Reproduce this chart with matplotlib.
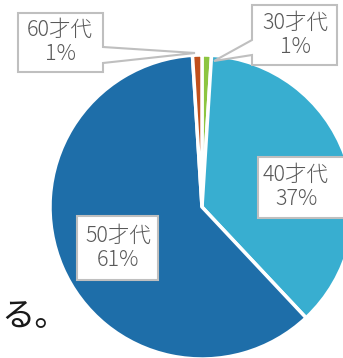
import matplotlib
matplotlib.use("Agg")
import matplotlib.pyplot as plt
from matplotlib.patches import Polygon

plt.rcParams['font.family'] = ['Noto Sans CJK JP', 'DejaVu Sans']

categories = ["30才代", "40才代", "50才代", "60才代"]
values = [1, 37, 61, 1]
pct_labels = ["1%", "37%", "61%", "1%"]
colors = ["#8DC540", "#38AED0", "#1E6EA9", "#C1501C"]

W, H = 343, 358
fig = plt.figure(figsize=(W / 100, H / 100), dpi=100)
ax = fig.add_axes([0, 0, 1, 1])

def py(y):
    return H - y

ax.pie(values, colors=colors, startangle=90, counterclock=False,
       center=(202, py(207)), radius=152,
       wedgeprops=dict(edgecolor="white", linewidth=2.5))
ax.set_xlim(0, W)
ax.set_ylim(0, H)
ax.set_aspect('auto')
ax.axis('off')

txt_color = "#595959"
edge = "#BFBFBF"

def callout(pts, cx, cy, label):
    poly = Polygon([(x, py(y)) for x, y in pts], closed=True,
                   facecolor="white", edgecolor=edge, linewidth=1.5, zorder=5)
    ax.add_patch(poly)
    ax.text(cx, py(cy), label, ha="center", va="center", color=txt_color,
            fontsize=15.5, fontweight="light", linespacing=1.1, zorder=6)

# 60才代 (box with pointer on right)
callout([(18, 13), (103, 13), (103, 47), (195, 53), (103, 63), (103, 72), (18, 72)],
        60, 42, categories[3] + "\n" + pct_labels[3])
# 30才代 (box with pointer on left)
callout([(252, 5), (337, 5), (337, 65), (252, 65), (252, 55), (214, 61), (252, 40)],
        295, 35, categories[0] + "\n" + pct_labels[0])
# 40才代
callout([(258, 157), (345, 157), (345, 218), (258, 218)],
        296, 187, categories[1] + "\n" + pct_labels[1])
# 50才代
callout([(77, 216), (158, 216), (158, 280), (77, 280)],
        118, 248, categories[2] + "\n" + pct_labels[2])

ax.text(1, py(317), "る。", ha="left", va="center", color="#1a1a1a", fontsize=24)

fig.savefig("out.png", dpi=100)
